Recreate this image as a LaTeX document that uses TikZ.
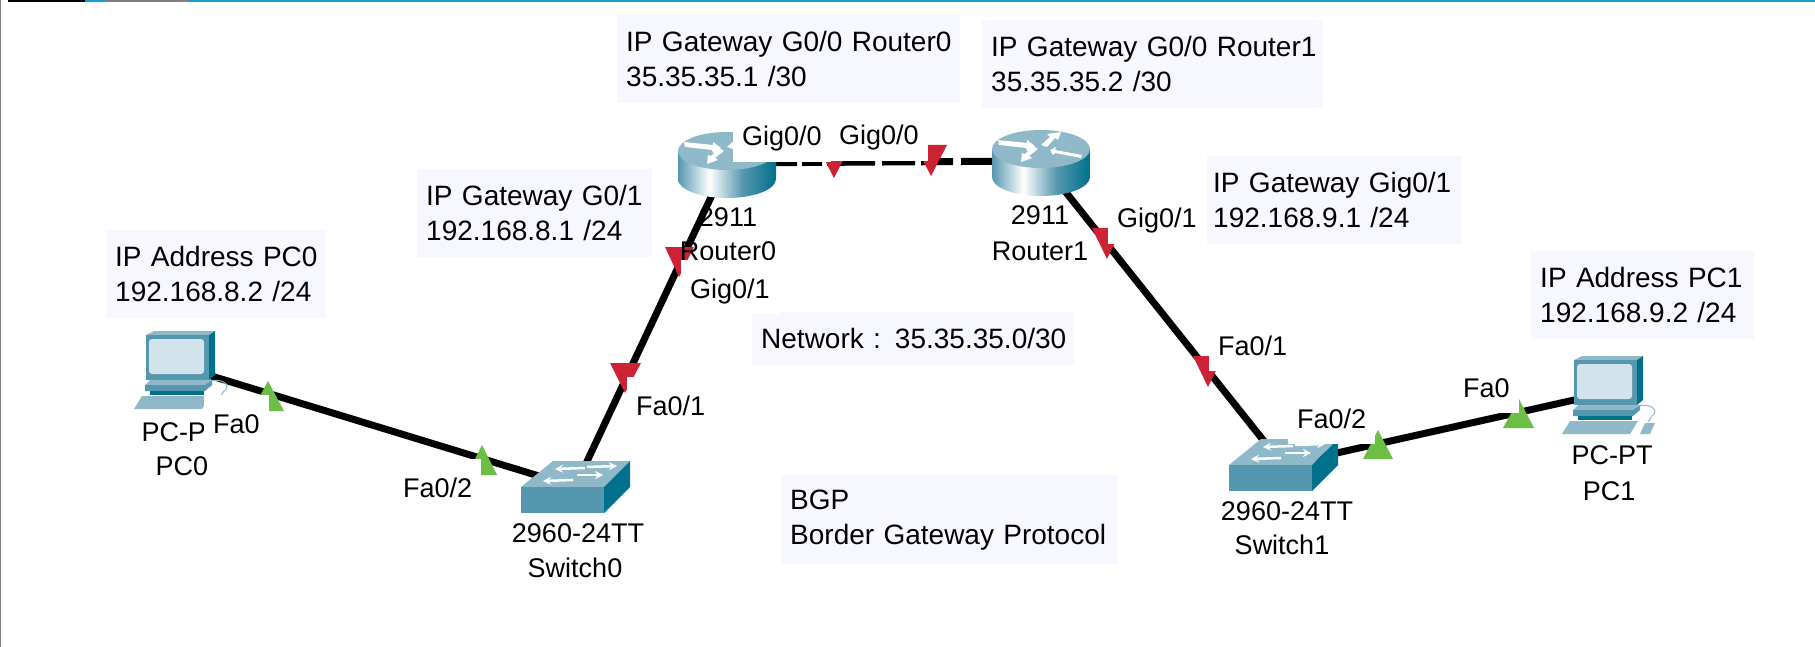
\documentclass[tikz,border=0pt]{standalone}
\usepackage{fontspec}
\setmainfont{Liberation Sans}
\usepackage{xcolor}
\definecolor{noteblue}{HTML}{F7F8FF}
\definecolor{barblue}{HTML}{1A9BD0}
\definecolor{teal}{HTML}{5597AE}
\definecolor{tealdark}{HTML}{00708C}
\definecolor{teallight}{HTML}{8FB9C9}
\definecolor{screen}{HTML}{D3E3EB}
\definecolor{portred}{HTML}{CC2233}
\definecolor{portgreen}{HTML}{6CBE45}
\pgfdeclarehorizontalshading{routerbody}{100bp}{color(0bp)=(teal); color(25bp)=(teal); color(41bp)=(white); color(58bp)=(teal); color(75bp)=(tealdark); color(100bp)=(tealdark)}
\tikzset{
  device/.style={inner sep=0pt,minimum size=0pt},
  devlabel/.style={anchor=base,inner sep=0pt},
  port/.style={anchor=base west,fill=white,inner xsep=9pt,inner ysep=16pt,text height=22pt,text depth=0pt},
  note/.style={anchor=north west,fill=noteblue,align=left,inner xsep=9pt,inner ysep=2pt,minimum height=88pt,text width=#1,font=\fontsize{28}{35}\selectfont},
  link/.style={line width=7pt},
  pcicon/.pic={
    \fill[teallight] (-36,-32)--(-28,-36)--(33,-36)--(27,-32)--cycle;
    \fill[teal] (-36,-32) rectangle (27,13);
    \fill[tealdark] (27,-32)--(33,-36)--(33,8)--(27,13)--cycle;
    \fill[screen,rounded corners=3pt] (-33,-28) rectangle (22,7);
    \fill[teallight] (-32,13)--(30,13)--(23,18)--(-37,18)--cycle;
    \fill[teal] (-37,18)--(23,18)--(30,13)--(30,18)--(23,24)--(-37,24)--cycle;
    \fill[tealdark] (-32,24) rectangle (22,28);
    \fill[teallight] (-48,42)--(20,42)--(28,29)--(-40,29)--cycle;
    \fill[teallight] (30,42)--(40,42)--(45,31)--(35,31)--cycle;
    \draw[teallight,line width=1pt] (28,14) .. controls (40,11) and (50,18) .. (42,24) -- (38,30);
  },
  switchicon/.pic={
    \fill[teallight] (-54,0)--(-22,-26)--(55,-26)--(29,0)--cycle;
    \fill[teal] (-54,0) rectangle (29,26);
    \fill[tealdark] (29,0)--(55,-26)--(55,0)--(29,26)--cycle;
    \draw[white,line width=2.5pt,-stealth] (10,-19)--(-20,-18);
    \draw[white,line width=2.5pt,-stealth] (12,-20)--(42,-21);
    \draw[white,line width=2.5pt,-stealth] (-2,-7)--(-32,-6);
    \draw[white,line width=2.5pt,-stealth] (2,-12)--(28,-12);
  },
  routericon/.pic={
    \shade[shading=routerbody] (-49,-12)--(-49,16) arc[start angle=180,end angle=0,x radius=49,y radius=19]--(49,-12)--cycle;
    \fill[teallight] (0,-12) ellipse [x radius=49,y radius=19];
    \fill[white] (-43,-21)--(-14,-18)--(-14,-21)--(-6,-15)--(-14,-10)--(-15,-13)--(-42,-16)--cycle;
    \fill[white] (0,-16)--(9,-24)--(6,-27)--(20,-29)--(17,-21)--(14,-23)--(6,-14)--cycle;
    \fill[white] (-3,-12)--(-12,-5)--(-9,-3)--(-20,1)--(-19,-8)--(-16,-7)--(-8,-15)--cycle;
    \fill[white] (41,-6)--(14,-11)--(15,-14)--(9,-11)--(12,-6)--(14,-8)--(40,-3)--cycle;
  },
}

\begin{document}
\begin{tikzpicture}[x=1pt,y=-1pt,every node/.style={font=\fontsize{27}{34}\selectfont}]
  \useasboundingbox (0,0) rectangle (1815,647);
  \fill[white] (0,0) rectangle (1815,647);
  % window edge
  \fill[gray] (0,0) rectangle (1,647);
  \fill[black] (8,0) rectangle (85,2);
  \fill[barblue] (85,0) rectangle (105,2);
  \fill[gray] (105,0) rectangle (187,2);
  \fill[barblue] (187,0) rectangle (1815,2);

  \node[device] (PC0) at (182,367) {};
  \node[device] (Switch0) at (575,487) {};
  \node[device] (Router0) at (727,163) {};
  \node[device] (Router1) at (1041,161) {};
  \node[device] (Switch1) at (1283,465) {};
  \node[device] (PC1) at (1610,392) {};

  % notes
  \node[note=325pt] (noteGwR0) at (617,15) {\mbox{IP Gateway G0/0 Router0}\\35.35.35.1 /30};
  \node[note=323pt] (noteGwR1) at (982,20) {\mbox{IP Gateway G0/0 Router1}\\35.35.35.2 /30};
  \node[note=217pt] (noteGwLan0) at (417,169) {\mbox{IP Gateway G0/1}\\192.168.8.1 /24};
  \node[note=202pt] (notePC0) at (106,230) {\mbox{IP Address PC0}\\192.168.8.2 /24};
  \node[note=304pt,minimum height=53pt] (noteNet) at (752,312) {\mbox{Network : 35.35.35.0/30}};
  \node[note=319pt,minimum height=89pt] (noteBGP) at (781,475) {BGP\\\mbox{Border Gateway Protocol}};
  \node[note=243pt,inner xsep=6pt] (noteGwLan1) at (1207,156) {\mbox{IP Gateway Gig0/1}\\192.168.9.1 /24};
  \node[note=205pt] (notePC1) at (1531,251) {\mbox{IP Address PC1}\\192.168.9.2 /24};

  % links
  \draw[link] (PC0)--(Switch0);
  \draw[link] (Router0)--(Switch0);
  \draw[link,dash pattern=on 70pt off 5pt on 20pt off 5pt on 48pt off 7pt on 33pt off 6pt on 32pt off 8pt on 200pt] (Router0)--(Router1);
  \draw[link] (Router1)--(Switch1);
  \draw[link] (Switch1)--(PC1);

  % port lights
  \fill[portred] (818,147)--(850,147)--(834,178)--cycle;
  \fill[portred] (915,145)--(947,145)--(931,176)--cycle;
  \fill[portred] (665,247)--(694,247)--(679,277)--cycle;
  \fill[portred] (610,363)--(641,363)--(625,393)--cycle;
  \fill[portred] (1092,228)--(1122,228)--(1107,259)--cycle;
  \fill[portred] (1193,356)--(1223,356)--(1208,387)--cycle;
  \fill[portgreen] (268,381)--(252,411)--(284,411)--cycle;
  \fill[portgreen] (482,445)--(467,475)--(497,475)--cycle;
  \fill[portgreen] (1378,430)--(1363,459)--(1393,459)--cycle;
  \fill[portgreen] (1519,399)--(1503,428)--(1534,428)--cycle;

  % devices
  \pic at (PC0) {pcicon};
  \pic at (PC1) {pcicon};
  \pic at (Switch0) {switchicon};
  \pic at (Switch1) {switchicon};
  \pic at (Router0) {routericon};
  \pic at (Router1) {routericon};

  \node[devlabel] (typePC0) at (182,441) {PC-PT};
  \node[devlabel] (namePC0) at (182,475) {PC0};
  \node[devlabel] (typeSwitch0) at (578,542) {2960-24TT};
  \node[devlabel] (nameSwitch0) at (575,577) {Switch0};
  \node[devlabel] (typeRouter0) at (728,227) {2911};
  \node[devlabel] (nameRouter0) at (728,261) {Router0};
  \node[devlabel] (typeRouter1) at (1040,225) {2911};
  \node[devlabel] (nameRouter1) at (1040,260) {Router1};
  \node[devlabel] (typeSwitch1) at (1287,520) {2960-24TT};
  \node[devlabel] (nameSwitch1) at (1282,554) {Switch1};
  \node[devlabel] (typePC1) at (1612,464) {PC-PT};
  \node[devlabel] (namePC1) at (1609,500) {PC1};

  % port names
  \node[port] (portR0a) at (733,146) {Gig0/0};
  \node[port] (portR1a) at (830,145) {Gig0/0};
  \node[port] (portR0b) at (681,298) {Gig0/1};
  \node[port] (portSw0a) at (627,415) {Fa0/1};
  \node[port] (portPC0) at (204,433) {Fa0};
  \node[port] (portSw0b) at (394,497) {Fa0/2};
  \node[port] (portR1b) at (1108,228) {Gig0/1};
  \node[port] (portSw1a) at (1209,355) {Fa0/1};
  \node[port] (portSw1b) at (1288,428) {Fa0/2};
  \node[port] (portPC1) at (1454,397) {Fa0};
\end{tikzpicture}
\end{document}
